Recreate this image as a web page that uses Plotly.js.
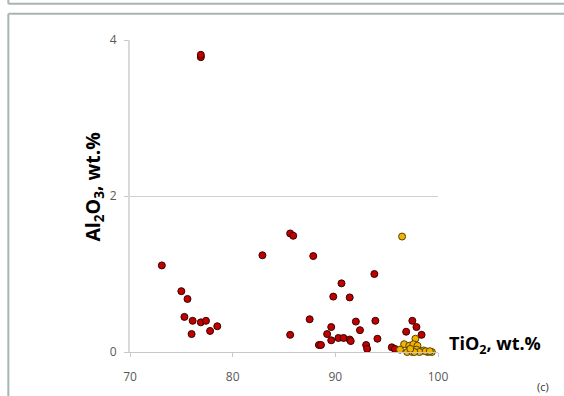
<!DOCTYPE html>
<html>
<head>
<meta charset="utf-8">
<script src="https://cdn.plot.ly/plotly-3.0.1.min.js"></script>
<style>html,body{margin:0;padding:0;background:#fff;}#chart{width:564px;height:396px;}</style>
</head>
<body>
<div id="chart"></div>
<script>
// Red series: TiO2 (x) and Al2O3 (y), wt.%
const redTiO2 = [76.9, 76.9, 73.1, 75.0, 75.6, 75.3, 76.1, 76.9, 77.4, 76.0, 77.8, 78.5,
  82.9, 85.6, 85.9, 87.85, 87.5, 85.6, 88.4, 93.8, 90.6, 89.8, 91.4, 89.6, 92.0, 93.9,
  92.4, 89.2, 89.6, 90.3, 90.8, 91.4, 91.5, 88.6, 93.0, 93.1, 94.1, 95.5, 95.8,
  97.5, 97.9, 96.9, 98.4, 97.6, 98.2];
const redAl2O3 = [3.78, 3.81, 1.11, 0.78, 0.68, 0.45, 0.40, 0.38, 0.40, 0.23, 0.27, 0.33,
  1.24, 1.52, 1.49, 1.23, 0.42, 0.22, 0.09, 1.00, 0.88, 0.71, 0.70, 0.32, 0.39, 0.40,
  0.28, 0.23, 0.15, 0.18, 0.18, 0.16, 0.14, 0.09, 0.09, 0.04, 0.17, 0.06, 0.04,
  0.40, 0.32, 0.26, 0.22, 0.02, 0.01];
// Yellow series
const yellowTiO2 = [96.5, 97.8, 96.7, 97.2, 97.6, 98.0, 96.3, 97.0, 97.5, 97.9, 98.6,
  99.0, 99.4, 98.2, 97.7, 97.3, 98.8, 99.2];
const yellowAl2O3 = [1.48, 0.17, 0.10, 0.08, 0.10, 0.08, 0.03, 0.0, 0.0, 0.03, 0.02,
  0.0, 0.0, 0.0, 0.0, 0.04, 0.01, 0.01];
const xTicks = [70, 80, 90, 100];
const yTicks = [0, 2, 4];

const traces = [
  {x: redTiO2, y: redAl2O3, type: 'scatter', mode: 'markers', cliponaxis: false,
   marker: {color: '#c00000', size: 7, line: {color: '#3a0000', width: 1}}},
  {x: yellowTiO2, y: yellowAl2O3, type: 'scatter', mode: 'markers', cliponaxis: false,
   marker: {color: '#f0b400', size: 7, line: {color: '#5a4000', width: 1}}}
];

const layout = {
  width: 564, height: 396,
  margin: {l: 130, r: 126, t: 40, b: 44},
  paper_bgcolor: '#ffffff', plot_bgcolor: '#ffffff',
  showlegend: false,
  font: {family: 'Open Sans, Liberation Sans, sans-serif', color: '#595959', size: 12},
  xaxis: {range: [70, 100], tickvals: xTicks, ticktext: xTicks.map(String),
    showgrid: false, zeroline: false, showline: true, linecolor: '#c8c8c8', linewidth: 1,
    ticks: 'outside', ticklen: 4, tickcolor: '#c8c8c8', ticklabelstandoff: 10,
    tickfont: {size: 12, color: '#595959'}},
  yaxis: {range: [0, 4], tickvals: yTicks, ticktext: yTicks.map(String),
    showgrid: true, gridcolor: '#d0d0d0', zeroline: false, showline: true, linecolor: '#d9d9d9',
    linewidth: 2, ticks: 'outside', ticklen: 4, tickcolor: '#c8c8c8', ticklabelstandoff: 5,
    tickfont: {size: 12, color: '#595959'}},
  annotations: [
    {text: '<b>Al<sub>2</sub>O<sub>3</sub>, wt.%</b>', xref: 'paper', yref: 'paper',
     x: -0.118, y: 0.529, textangle: -90, showarrow: false, xanchor: 'center', yanchor: 'middle',
     font: {size: 19.5, color: '#000000', family: 'Open Sans, sans-serif'}},
    {text: '<b>TiO<sub>2</sub>, wt.%</b>', xref: 'paper', yref: 'paper',
     x: 1.03, y: 0.025, showarrow: false, xanchor: 'left', yanchor: 'middle',
     font: {size: 18, color: '#000000', family: 'Open Sans, sans-serif'}},
    {text: '(c)', xref: 'paper', yref: 'paper', x: 1.34, y: -0.11, showarrow: false,
     xanchor: 'center', yanchor: 'middle', font: {size: 11, color: '#333333'}}
  ],
  shapes: [
    {type: 'line', xref: 'paper', yref: 'paper', x0: -0.395, x1: 1.5, y0: 1.116, y1: 1.116,
     line: {color: '#a8b4b0', width: 2}},
    {type: 'line', xref: 'paper', yref: 'paper', x0: -0.395, x1: -0.395, y0: 1.2, y1: 1.116,
     line: {color: '#a8b4b0', width: 2}},
    {type: 'line', xref: 'paper', yref: 'paper', x0: -0.395, x1: 1.5, y0: 1.084, y1: 1.084,
     line: {color: '#a8b4b0', width: 2}},
    {type: 'line', xref: 'paper', yref: 'paper', x0: -0.395, x1: -0.395, y0: 1.084, y1: -0.2,
     line: {color: '#a8b4b0', width: 2}}
  ]
};

Plotly.newPlot('chart', traces, layout, {displayModeBar: false, staticPlot: true});
</script>
</body>
</html>
